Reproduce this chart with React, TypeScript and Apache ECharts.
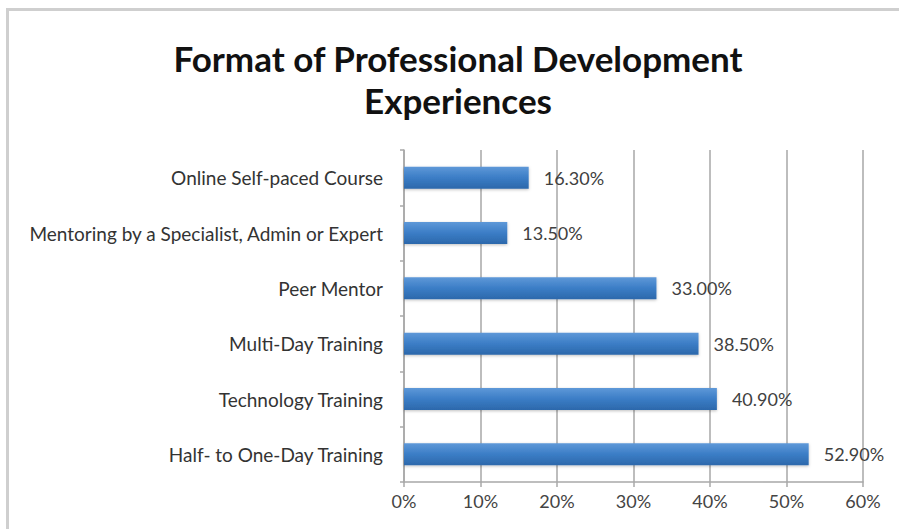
import React, { useEffect, useRef } from "react";
import * as echarts from "echarts";

const categories = [
  "Online Self-paced Course",
  "Mentoring by a Specialist, Admin or Expert",
  "Peer Mentor",
  "Multi-Day Training",
  "Technology Training",
  "Half- to One-Day Training",
];
const values = [16.3, 13.5, 33.0, 38.5, 40.9, 52.9];
const xTicks = [0, 10, 20, 30, 40, 50, 60];
const titleText = "Format of Professional Development\nExperiences";

export default function App() {
  const ref = useRef<HTMLDivElement>(null);
  useEffect(() => {
    if (!ref.current) return;
    const chart = echarts.init(ref.current, undefined, { renderer: "svg" });
    chart.setOption({
      animation: false,
      backgroundColor: "#ffffff",
      title: {
        text: titleText,
        left: 458,
        textAlign: "center",
        top: 37,
        padding: 0,
        textStyle: {
          fontFamily: "Lato",
          fontWeight: "bold",
          fontSize: 35,
          lineHeight: 42,
          color: "#111111",
        },
      },
      graphic: [
        {
          type: "rect",
          shape: { x: 7.5, y: 9.5, width: 900, height: 530 },
          style: { fill: "none", stroke: "#cfcfcf", lineWidth: 3 },
          silent: true,
        },
      ],
      grid: { left: 404, right: 36, top: 150, bottom: 47, containLabel: false },
      xAxis: {
        type: "value",
        min: xTicks[0],
        max: xTicks[xTicks.length - 1],
        interval: 10,
        axisLine: { show: true, lineStyle: { color: "#a8a8a8", width: 1.5 } },
        axisTick: { show: true, length: 5, lineStyle: { color: "#a8a8a8", width: 1.5 } },
        splitLine: { show: true, lineStyle: { color: "#bdbdbd", width: 2 } },
        axisLabel: {
          formatter: (v: number) => v + "%",
          fontFamily: "Lato",
          fontSize: 18,
          color: "#444444",
          margin: 10,
        },
      },
      yAxis: {
        type: "category",
        data: categories,
        inverse: true,
        axisLine: { show: true, lineStyle: { color: "#a8a8a8", width: 1.5 } },
        axisTick: { show: true, length: 4, lineStyle: { color: "#a8a8a8", width: 1.5 } },
        axisLabel: {
          fontFamily: "Lato",
          fontSize: 19,
          color: "#333333",
          margin: 21,
        },
      },
      series: [
        {
          type: "bar",
          data: values,
          barWidth: 22,
          itemStyle: {
            color: new echarts.graphic.LinearGradient(0, 0, 0, 1, [
              { offset: 0, color: "#5e98d8" },
              { offset: 0.5, color: "#3b7dc6" },
              { offset: 1, color: "#2c68ab" },
            ]),
            shadowColor: "rgba(0,0,0,0.25)",
            shadowBlur: 3,
            shadowOffsetY: 1,
          },
          label: {
            show: true,
            position: "right",
            distance: 15,
            formatter: (p: any) => p.value.toFixed(2) + "%",
            fontFamily: "Lato",
            fontSize: 18,
            color: "#404040",
          },
        },
      ],
    });
    return () => chart.dispose();
  }, []);
  return (
    <div
      ref={ref}
      style={{ position: "fixed", left: 0, top: 0, width: 899, height: 529 }}
    />
  );
}
